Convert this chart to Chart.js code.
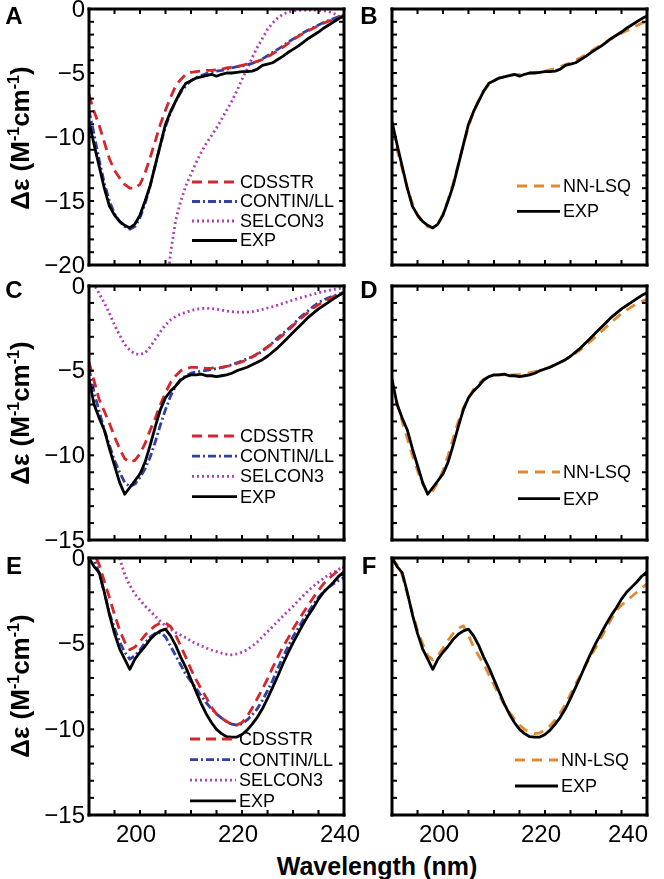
<!DOCTYPE html>
<html>
<head>
<meta charset="utf-8">
<script src="https://cdn.jsdelivr.net/npm/chart.js@4"></script>
<style>
  body { margin: 0; background: #fff; font-family: "Liberation Sans", Arial, sans-serif; }
  #fig { position: relative; width: 664px; height: 879px; overflow: hidden; }
  canvas { position: absolute; }
  .lab { position: absolute; font-weight: bold; font-size: 24px; line-height: 1; transform: translate(-50%, -50%); }
  .ytitle { position: absolute; font-weight: bold; font-size: 26px; line-height: 1; white-space: nowrap;
            transform: translate(-50%, -50%) rotate(-90deg); }
  .ytitle sup { font-size: 16px; vertical-align: 0.6em; line-height: 0; }
  #xtitle { position: absolute; left: 377px; top: 866px; transform: translate(-50%, -50%);
            font-weight: bold; font-size: 25px; line-height: 1; white-space: nowrap; }
</style>
</head>
<body>
<div id="fig">
  <canvas id="cA" width="368" height="275" style="left:0;top:0"></canvas>
  <canvas id="cB" width="284" height="275" style="left:380px;top:0"></canvas>
  <canvas id="cC" width="368" height="272" style="left:0;top:276px"></canvas>
  <canvas id="cD" width="284" height="272" style="left:380px;top:276px"></canvas>
  <canvas id="cE" width="368" height="300" style="left:0;top:548px"></canvas>
  <canvas id="cF" width="284" height="300" style="left:380px;top:548px"></canvas>

  <div class="lab" style="left:14px;top:16px">A</div>
  <div class="lab" style="left:369px;top:16px">B</div>
  <div class="lab" style="left:14px;top:290px">C</div>
  <div class="lab" style="left:369px;top:290px">D</div>
  <div class="lab" style="left:14px;top:566px">E</div>
  <div class="lab" style="left:369px;top:566px">F</div>

  <div class="ytitle" style="left:20px;top:138px">Δε (M<sup>-1</sup>cm<sup>-1</sup>)</div>
  <div class="ytitle" style="left:20px;top:413px">Δε (M<sup>-1</sup>cm<sup>-1</sup>)</div>
  <div class="ytitle" style="left:20px;top:686px">Δε (M<sup>-1</sup>cm<sup>-1</sup>)</div>
  <div id="xtitle">Wavelength (nm)</div>
</div>

<script>
const wavelength = [190, 191, 192, 193, 194, 195, 196, 197, 198, 199,
  200, 201, 202, 203, 204, 205, 206, 207, 208, 209,
  210, 211, 212, 213, 214, 215, 216, 217, 218, 219,
  220, 221, 222, 223, 224, 225, 226, 227, 228, 229,
  230, 231, 232, 233, 234, 235, 236, 237, 238, 239, 240];

const xTicks = [190, 195, 200, 205, 210, 215, 220, 225, 230, 235, 240];
const xTickLabels = [200, 220, 240];
const yTicks20 = [0, -1, -2, -3, -4, -5, -6, -7, -8, -9, -10, -11, -12, -13, -14, -15, -16, -17, -18, -19, -20];
const yTicks15 = [0, -1, -2, -3, -4, -5, -6, -7, -8, -9, -10, -11, -12, -13, -14, -15];
const yTickLabels20 = [0, -5, -10, -15, -20];
const yTickLabels15 = [0, -5, -10, -15];

// panel A / B
const expA = [-8.8, -10.6, -12.3, -14.0, -15.4, -16.1, -16.6, -16.9, -17.1, -16.8,
  -16.1, -15.0, -13.8, -12.2, -10.6, -9.0, -8.0, -7.2, -6.4, -5.8,
  -5.6, -5.4, -5.3, -5.2, -5.1, -5.25, -5.1, -5.0, -5.0, -4.95,
  -4.9, -4.9, -4.85, -4.7, -4.4, -4.3, -4.2, -3.95, -3.7, -3.4,
  -3.15, -2.9, -2.6, -2.3, -2.05, -1.8, -1.5, -1.25, -1.0, -0.75, -0.55];
const cdsstrA = [-6.7, -8.0, -9.1, -10.4, -11.7, -12.6, -13.2, -13.7, -14.0, -14.0,
  -13.7, -12.8, -11.6, -10.3, -9.0, -7.9, -6.9, -6.0, -5.5, -5.1,
  -4.95, -4.9, -4.85, -4.8, -4.8, -4.75, -4.7, -4.6, -4.55, -4.5,
  -4.4, -4.3, -4.2, -4.1, -3.95, -3.75, -3.5, -3.25, -3.0, -2.7,
  -2.4, -2.15, -1.9, -1.7, -1.5, -1.3, -1.1, -0.95, -0.8, -0.65, -0.5];
const continA = [-7.9, -9.8, -11.8, -13.6, -15.0, -16.0, -16.6, -17.0, -17.2, -17.0,
  -16.3, -15.2, -13.8, -12.2, -10.6, -9.2, -8.1, -7.2, -6.5, -6.0,
  -5.6, -5.35, -5.2, -5.05, -4.95, -4.85, -4.8, -4.7, -4.6, -4.5,
  -4.45, -4.35, -4.25, -4.1, -3.9, -3.65, -3.4, -3.15, -2.9, -2.6,
  -2.35, -2.1, -1.85, -1.65, -1.45, -1.25, -1.05, -0.9, -0.75, -0.6, -0.5];
const selconA = [null, null, null, null, null, null, null, null, null, null,
  null, null, null, null, null, -23.0, -19.0, -16.5, -15.0, -13.8,
  -12.9, -12.0, -11.2, -10.5, -9.9, -9.3, -8.6, -7.9, -7.2, -6.4,
  -5.5, -4.7, -3.8, -3.0, -2.3, -1.6, -1.1, -0.7, -0.4, -0.25,
  -0.15, -0.1, -0.08, -0.08, -0.08, -0.1, -0.15, -0.2, -0.35, -0.55, -0.7];
const nnlsqB = [-9.5, -11.0, -12.5, -14.0, -15.2, -16.1, -16.7, -17.0, -17.1, -16.8,
  -16.0, -14.9, -13.6, -12.1, -10.6, -9.2, -8.0, -7.1, -6.4, -5.9,
  -5.6, -5.4, -5.3, -5.2, -5.15, -5.1, -5.05, -5.0, -4.95, -4.9,
  -4.85, -4.75, -4.65, -4.5, -4.35, -4.2, -4.0, -3.8, -3.55, -3.3,
  -3.05, -2.8, -2.55, -2.3, -2.1, -1.9, -1.7, -1.5, -1.3, -1.1, -0.95];

// panel C / D
const expC = [-5.5, -7.0, -7.8, -8.5, -9.6, -10.6, -11.6, -12.3, -11.9, -11.5,
  -11.1, -10.4, -9.4, -8.3, -7.3, -6.6, -6.2, -5.9, -5.55, -5.35,
  -5.25, -5.25, -5.2, -5.3, -5.3, -5.35, -5.3, -5.25, -5.15, -5.0,
  -4.9, -4.8, -4.65, -4.5, -4.35, -4.15, -3.9, -3.65, -3.35, -3.05,
  -2.75, -2.45, -2.15, -1.85, -1.6, -1.35, -1.15, -0.95, -0.75, -0.55, -0.4];
const cdsstrC = [-4.5, -5.6, -6.7, -7.4, -8.1, -8.9, -9.6, -10.2, -10.4, -10.3,
  -9.9, -9.3, -8.5, -7.8, -7.0, -6.3, -5.7, -5.3, -5.0, -4.9,
  -4.8, -4.8, -4.85, -4.86, -4.85, -4.82, -4.8, -4.75, -4.68, -4.58,
  -4.47, -4.35, -4.2, -4.0, -3.8, -3.6, -3.4, -3.15, -2.9, -2.65,
  -2.35, -2.05, -1.8, -1.55, -1.3, -1.1, -0.93, -0.78, -0.62, -0.48, -0.38];
const continC = [-4.85, -6.3, -7.4, -8.5, -9.4, -10.3, -11.0, -11.6, -11.85, -11.7,
  -11.3, -10.8, -10.1, -9.2, -8.2, -7.3, -6.5, -5.9, -5.5, -5.3,
  -5.15, -5.08, -5.03, -4.98, -4.93, -4.88, -4.82, -4.75, -4.65, -4.53,
  -4.42, -4.3, -4.18, -4.03, -3.85, -3.6, -3.35, -3.05, -2.8, -2.55,
  -2.3, -1.95, -1.7, -1.45, -1.2, -0.98, -0.82, -0.7, -0.58, -0.47, -0.38];
const selconC = [0.4, 0.1, -0.45, -1.0, -1.6, -2.3, -2.9, -3.45, -3.8, -4.0,
  -4.05, -3.95, -3.6, -3.15, -2.7, -2.3, -2.0, -1.8, -1.65, -1.55,
  -1.45, -1.38, -1.33, -1.32, -1.33, -1.37, -1.42, -1.48, -1.52, -1.54,
  -1.55, -1.54, -1.52, -1.46, -1.38, -1.3, -1.22, -1.13, -1.03, -0.93,
  -0.83, -0.74, -0.65, -0.57, -0.48, -0.4, -0.33, -0.26, -0.2, -0.15, -0.1];
const nnlsqD = [-5.8, -6.9, -8.0, -9.0, -10.0, -10.9, -11.7, -12.2, -12.1, -11.6,
  -10.9, -10.0, -9.0, -8.0, -7.2, -6.6, -6.1, -5.75, -5.5, -5.35,
  -5.28, -5.25, -5.25, -5.25, -5.25, -5.22, -5.18, -5.12, -5.05, -4.97,
  -4.88, -4.77, -4.65, -4.5, -4.35, -4.17, -3.97, -3.75, -3.5, -3.25,
  -2.98, -2.7, -2.42, -2.15, -1.88, -1.63, -1.42, -1.22, -1.05, -0.9, -0.78];

// panel E / F
const expE = [0.0, -0.5, -0.85, -2.0, -3.3, -4.4, -5.3, -5.9, -6.5, -5.9,
  -5.5, -5.15, -4.75, -4.45, -4.25, -4.15, -4.55, -5.1, -5.8, -6.4,
  -7.1, -7.8, -8.5, -9.1, -9.6, -10.0, -10.25, -10.43, -10.45, -10.45,
  -10.3, -10.05, -9.7, -9.3, -8.8, -8.2, -7.55, -6.9, -6.2, -5.55,
  -4.95, -4.4, -3.85, -3.35, -2.9, -2.4, -2.0, -1.7, -1.4, -1.05, -0.8];
const cdsstrE = [0.8, 0.3, -0.4, -1.35, -2.3, -3.3, -4.2, -4.9, -5.35, -5.2,
  -4.87, -4.5, -4.2, -3.95, -3.8, -3.8, -4.0, -4.5, -5.15, -5.8,
  -6.5, -7.1, -7.65, -8.15, -8.7, -9.1, -9.35, -9.55, -9.7, -9.75,
  -9.6, -9.25, -8.75, -8.2, -7.65, -7.05, -6.4, -5.8, -5.2, -4.7,
  -4.15, -3.65, -3.2, -2.75, -2.3, -1.9, -1.5, -1.2, -0.95, -0.7, -0.55];
const continE = [0.3, -0.05, -0.9, -2.0, -3.2, -4.1, -4.9, -5.5, -5.9, -5.7,
  -5.36, -4.95, -4.6, -4.4, -4.35, -4.6, -5.15, -5.7, -6.25, -6.8,
  -7.2, -7.6, -8.05, -8.45, -8.8, -9.1, -9.35, -9.55, -9.7, -9.75,
  -9.68, -9.45, -9.15, -8.8, -8.3, -7.75, -7.15, -6.45, -5.8, -5.2,
  -4.6, -4.1, -3.6, -3.15, -2.7, -2.3, -1.95, -1.7, -1.5, -1.3, -1.15];
const selconE = [null, null, null, null, 1.0, 0.5, 0.0, -0.95, -1.6, -2.1,
  -2.45, -2.8, -3.1, -3.4, -3.7, -3.95, -4.15, -4.35, -4.5, -4.65,
  -4.85, -5.0, -5.12, -5.25, -5.37, -5.46, -5.55, -5.62, -5.65, -5.6,
  -5.5, -5.35, -5.15, -4.9, -4.6, -4.3, -4.0, -3.7, -3.4, -3.1,
  -2.83, -2.5, -2.2, -1.9, -1.65, -1.4, -1.18, -0.98, -0.82, -0.66, -0.52];
const nnlsqF = [0.0, -0.4, -1.0, -2.1, -3.2, -4.2, -5.0, -5.7, -5.95, -5.7,
  -5.25, -4.8, -4.4, -4.1, -3.96, -4.5, -5.2, -5.7, -6.2, -6.8,
  -7.4, -8.0, -8.55, -9.0, -9.4, -9.75, -10.0, -10.18, -10.25, -10.2,
  -10.05, -9.8, -9.45, -9.05, -8.55, -7.95, -7.35, -6.8, -6.25, -5.7,
  -5.2, -4.65, -4.1, -3.55, -3.05, -2.75, -2.5, -2.25, -2.0, -1.75, -1.5];

const RED = '#d5262c', BLUE = '#3240a6', MAGENTA = '#b03fb6', ORANGE = '#df8a33';
const FONT = '"Liberation Sans", Arial, sans-serif';

function pts(vals) {
  return vals.map((v, i) => ({ x: wavelength[i], y: v }));
}

function series(label, vals, color, dash, order) {
  return {
    label: label,
    data: pts(vals),
    borderColor: color,
    borderWidth: 2.8,
    borderDash: dash,
    borderCapStyle: 'butt',
    borderJoinStyle: 'round',
    pointRadius: 0,
    tension: 0,
    fill: false,
    order: order
  };
}

function fmt(v) {
  return v < 0 ? '\u2212' + (-v) : String(v);
}

// box, inward ticks, tick labels and legend, placed through the chart's scales
function makeFrame(cfg) {
  return {
    id: 'panelFrame',
    afterDraw(chart) {
      const ctx = chart.ctx;
      const x = chart.scales.x, y = chart.scales.y;
      const L = x.getPixelForValue(190), R = x.getPixelForValue(240);
      const T = y.getPixelForValue(0), B = y.getPixelForValue(cfg.ymin);
      ctx.save();
      ctx.fillStyle = '#000';

      // inward ticks on all four sides
      xTicks.forEach(v => {
        const px = x.getPixelForValue(v);
        ctx.fillRect(px - 1, B - 5, 2, 5);
        ctx.fillRect(px - 1, T, 2, 5);
      });
      cfg.yTicks.forEach(v => {
        const py = y.getPixelForValue(v);
        ctx.fillRect(L, py - 1, 5, 2);
        ctx.fillRect(R - 5, py - 1, 5, 2);
      });
      // box
      ctx.fillRect(L - 1.5, T - 1.5, R - L + 3, 3);
      ctx.fillRect(L - 1.5, B - 1.5, R - L + 3, 3);
      ctx.fillRect(L - 1.5, T - 1.5, 3, B - T + 3);
      ctx.fillRect(R - 1.5, T - 1.5, 3, B - T + 3);

      ctx.font = '24px ' + FONT;
      ctx.textBaseline = 'middle';
      if (cfg.yLabels) {
        ctx.textAlign = 'right';
        cfg.yLabels.forEach(v => ctx.fillText(fmt(v), L - 4, y.getPixelForValue(v) + 1));
      }
      if (cfg.xLabels) {
        ctx.textAlign = 'center';
        cfg.xLabels.forEach(v => {
          const s = String(v);
          const w = ctx.measureText(s).width;
          let cx = x.getPixelForValue(v) - 4;
          if (cfg.xLabelMax && cx + w / 2 > cfg.xLabelMax) cx = cfg.xLabelMax - w / 2;
          ctx.fillText(s, cx, B + 20);
        });
      }

      const lg = cfg.legend;
      ctx.font = '18px ' + FONT;
      ctx.textAlign = 'left';
      chart.data.datasets.forEach((ds, i) => {
        const yy = T + lg.y + i * lg.gap;
        const x0 = L + lg.x;
        ctx.save();
        ctx.strokeStyle = ds.borderColor;
        ctx.lineWidth = ds.borderWidth;
        ctx.setLineDash(ds.borderDash || []);
        ctx.beginPath();
        ctx.moveTo(x0, yy);
        ctx.lineTo(x0 + lg.len, yy);
        ctx.stroke();
        ctx.restore();
        ctx.fillText(ds.label, x0 + lg.len + 3, yy + 1);
      });
      ctx.restore();
    }
  };
}

function makeChart(id, datasets, cfg) {
  new Chart(document.getElementById(id), {
    type: 'line',
    data: { datasets: datasets },
    options: {
      responsive: false,
      animation: false,
      devicePixelRatio: 1,
      layout: { padding: cfg.pad },
      scales: {
        x: { type: 'linear', min: 190, max: 240, display: false },
        y: { type: 'linear', min: cfg.ymin, max: 0, display: false }
      },
      plugins: { legend: { display: false }, tooltip: { enabled: false } }
    },
    plugins: [makeFrame(cfg)]
  });
}

const fitDash = { cdsstr: [10, 6], contin: [8, 3, 2, 3], selcon: [2, 3], nnlsq: [10, 7] };

makeChart('cA', [
  series('CDSSTR', cdsstrA, RED, fitDash.cdsstr, 1),
  series('CONTIN/LL', continA, BLUE, fitDash.contin, 2),
  series('SELCON3', selconA, MAGENTA, fitDash.selcon, 3),
  series('EXP', expA, '#000', [], 0)
], { ymin: -20, yTicks: yTicks20, yLabels: yTickLabels20,
     pad: { left: 89, right: 24, top: 9, bottom: 10 },
     legend: { x: 103, y: 173, gap: 19.5, len: 45 } });

makeChart('cB', [
  series('NN-LSQ', nnlsqB, ORANGE, fitDash.nnlsq, 1),
  series('EXP', expA, '#000', [], 0)
], { ymin: -20, yTicks: yTicks20,
     pad: { left: 12, right: 17, top: 9, bottom: 10 },
     legend: { x: 125, y: 177, gap: 25.3, len: 43 } });

makeChart('cC', [
  series('CDSSTR', cdsstrC, RED, fitDash.cdsstr, 1),
  series('CONTIN/LL', continC, BLUE, fitDash.contin, 2),
  series('SELCON3', selconC, MAGENTA, fitDash.selcon, 3),
  series('EXP', expC, '#000', [], 0)
], { ymin: -15, yTicks: yTicks15, yLabels: yTickLabels15,
     pad: { left: 89, right: 24, top: 10, bottom: 8 },
     legend: { x: 103, y: 150, gap: 20.2, len: 45 } });

makeChart('cD', [
  series('NN-LSQ', nnlsqD, ORANGE, fitDash.nnlsq, 1),
  series('EXP', expC, '#000', [], 0)
], { ymin: -15, yTicks: yTicks15,
     pad: { left: 12, right: 17, top: 10, bottom: 8 },
     legend: { x: 126, y: 186, gap: 26.6, len: 42 } });

makeChart('cE', [
  series('CDSSTR', cdsstrE, RED, fitDash.cdsstr, 1),
  series('CONTIN/LL', continE, BLUE, fitDash.contin, 2),
  series('SELCON3', selconE, MAGENTA, fitDash.selcon, 3),
  series('EXP', expE, '#000', [], 0)
], { ymin: -15, yTicks: yTicks15, yLabels: yTickLabels15, xLabels: xTickLabels,
     pad: { left: 89, right: 24, top: 10, bottom: 33 },
     legend: { x: 101, y: 181, gap: 20.6, len: 46 } });

makeChart('cF', [
  series('NN-LSQ', nnlsqF, ORANGE, fitDash.nnlsq, 1),
  series('EXP', expE, '#000', [], 0)
], { ymin: -15, yTicks: yTicks15, xLabels: xTickLabels, xLabelMax: 268,
     pad: { left: 12, right: 17, top: 10, bottom: 33 },
     legend: { x: 123, y: 202, gap: 26, len: 43 } });
</script>
</body>
</html>
